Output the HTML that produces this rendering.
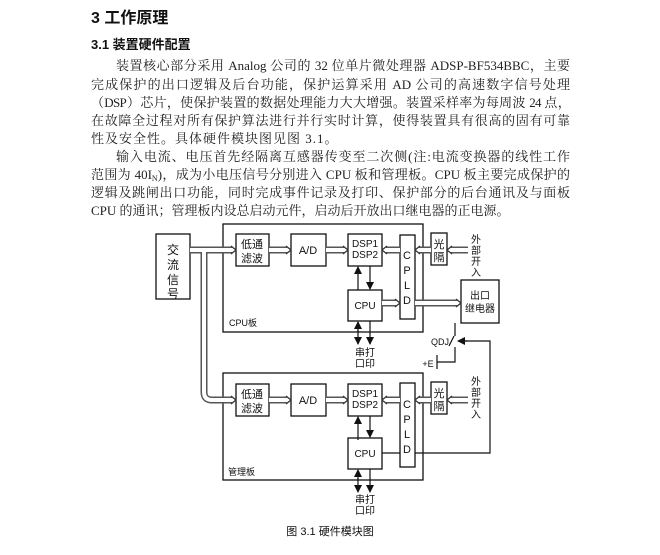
<!DOCTYPE html>
<html><head><meta charset="utf-8"><style>
body{margin:0;width:660px;height:555px;background:#fff;position:relative;overflow:hidden;color:#111}
.t{position:absolute;left:91px;white-space:nowrap;font-family:"Liberation Sans","Noto Sans CJK SC",sans-serif;font-weight:bold}
.l{position:absolute;left:91px;width:479px;font-family:"Liberation Serif","Noto Serif CJK SC",serif;font-size:13px;line-height:18px;height:18px;text-align:justify;text-align-last:justify;white-space:nowrap;color:#222}
svg{position:absolute;left:0;top:0}
</style></head><body>
<div class="t" style="top:4px;font-size:16px">3 工作原理</div>
<div class="t" style="top:34px;font-size:13px">3.1 装置硬件配置</div>
<div class="l" style="top:57px;left:116px;width:454px">装置核心部分采用 Analog 公司的 32 位单片微处理器 ADSP-BF534BBC，主要</div>
<div class="l" style="top:76px">完成保护的出口逻辑及后台功能，保护运算采用 AD 公司的高速数字信号处理</div>
<div class="l" style="top:94px;letter-spacing:-0.7px">（DSP）芯片，使保护装置的数据处理能力大大增强。装置采样率为每周波 24 点，</div>
<div class="l" style="top:112px">在故障全过程对所有保护算法进行并行实时计算，使得装置具有很高的固有可靠</div>
<div class="l" style="top:130px;text-align-last:left;letter-spacing:1px">性及安全性。具体硬件模块图见图 3.1。</div>
<div class="l" style="top:148px;left:116px;width:454px">输入电流、电压首先经隔离互感器传变至二次侧(注:电流变换器的线性工作</div>
<div class="l" style="top:166px">范围为 40I<span style="font-size:8px;position:relative;top:2px">N</span>)，成为小电压信号分别进入 CPU 板和管理板。CPU 板主要完成保护的</div>
<div class="l" style="top:184px">逻辑及跳闸出口功能，同时完成事件记录及打印、保护部分的后台通讯及与面板</div>
<div class="l" style="top:202px;text-align-last:left">CPU 的通讯；管理板内设总启动元件，启动后开放出口继电器的正电源。</div>
<svg width="660" height="555" font-family="Liberation Sans,Noto Sans CJK SC,sans-serif" font-size="11">
<defs>
<marker id="a" markerWidth="8" markerHeight="8" refX="7" refY="4" orient="auto" markerUnits="userSpaceOnUse"><path d="M0,0 L8,4 L0,8 z" fill="#111"/></marker>
</defs>
<g fill="none" stroke="#111" stroke-width="1.3">
<rect x="223" y="224" width="200" height="108"/>
<rect x="223" y="373" width="200" height="107"/>
<rect x="156" y="234" width="34" height="65"/>
<rect x="236" y="234" width="33" height="32"/><rect x="291" y="234" width="35" height="32"/><rect x="348" y="234" width="34" height="32"/>
<rect x="400" y="235" width="15" height="84"/><rect x="431" y="233" width="16" height="32"/><rect x="348" y="290" width="34" height="31"/>
<rect x="461" y="280" width="38" height="43"/>
<rect x="236" y="384" width="33" height="32"/><rect x="291" y="384" width="35" height="32"/><rect x="348" y="384" width="34" height="32"/>
<rect x="400" y="383" width="15" height="84"/><rect x="431" y="382" width="16" height="32"/><rect x="348" y="438" width="34" height="31"/>
</g>
<g fill="none" stroke-linejoin="round">
<g stroke="#555" stroke-width="7">
<path d="M190,250H232"/><path d="M204,250V392Q204,400 212,400H232"/>
<path d="M269,250H287M326,250H344M400,250H386M431,250H419M468,250H451M382,303H396M415,303H457"/>
<path d="M269,400H287M326,400H344M400,400H386M431,400H419M468,400H451"/>
</g>
<g stroke="#fff" stroke-width="4">
<path d="M190,250H233"/><path d="M204,250V392Q204,400 212,400H233"/>
<path d="M269,250H288M326,250H345M400,250H385M431,250H418M468,250H450M382,303H397M415,303H458"/>
<path d="M269,400H288M326,400H345M400,400H385M431,400H418M468,400H450"/>
</g>
<g stroke="#333" stroke-width="1.3">
<path d="M231,246L236,250L231,254M286,246L291,250L286,254M343,246L348,250L343,254M387,246L382,250L387,254M420,246L415,250L420,254M452,246L447,250L452,254M395,299L400,303L395,307M456,299L461,303L456,307"/>
<path d="M231,396L236,400L231,404M286,396L291,400L286,404M343,396L348,400L343,404M387,396L382,400L387,404M420,396L415,400L420,404M452,396L447,400L452,404"/>
</g>
</g>
<g stroke="#111" stroke-width="1.2" fill="none">
<path d="M358,290V267" marker-end="url(#a)"/><path d="M370,266V289" marker-end="url(#a)"/>
<path d="M358,332V322" marker-end="url(#a)"/><path d="M358,330V344" marker-end="url(#a)"/><path d="M370,321V344" marker-end="url(#a)"/>
<path d="M358,440V417" marker-end="url(#a)"/><path d="M370,416V437" marker-end="url(#a)"/>
<path d="M358,480V470" marker-end="url(#a)"/><path d="M358,478V492" marker-end="url(#a)"/><path d="M370,469V492" marker-end="url(#a)"/>
<path d="M382,453H400M415,453H490V341H462" />
<path d="M468,341H458" marker-end="url(#a)"/>
<path d="M455,323V336M449,346L454,336M455,347V362H437M437,355V369"/>
</g>
<g fill="#111" text-anchor="middle">
<text x="173" y="254" font-size="12">交</text><text x="173" y="269" font-size="12">流</text><text x="173" y="284" font-size="12">信</text><text x="173" y="298" font-size="12">号</text>
<text x="252" y="248" font-size="11">低通</text><text x="252" y="262" font-size="11">滤波</text>
<text x="308" y="254" font-size="11">A/D</text>
<text x="365" y="247" font-size="10">DSP1</text><text x="365" y="258" font-size="10">DSP2</text>
<text x="407" y="259" font-size="11">C</text><text x="407" y="274" font-size="11">P</text><text x="407" y="289" font-size="11">L</text><text x="407" y="304" font-size="11">D</text>
<text x="439" y="248" font-size="11">光</text><text x="439" y="261" font-size="11">隔</text>
<text x="476" y="243" font-size="10">外</text><text x="476" y="254" font-size="10">部</text><text x="476" y="265" font-size="10">开</text><text x="476" y="276" font-size="10">入</text>
<text x="365" y="309" font-size="10">CPU</text>
<text x="480" y="299" font-size="10">出口</text><text x="480" y="312" font-size="10">继电器</text>
<text x="365" y="356" font-size="10">串打</text><text x="365" y="367" font-size="10">口印</text>
<text x="440" y="345" font-size="9">QDJ</text><text x="428" y="367" font-size="9">+E</text>
<text x="252" y="398" font-size="11">低通</text><text x="252" y="412" font-size="11">滤波</text>
<text x="308" y="404" font-size="11">A/D</text>
<text x="365" y="397" font-size="10">DSP1</text><text x="365" y="408" font-size="10">DSP2</text>
<text x="407" y="408" font-size="11">C</text><text x="407" y="423" font-size="11">P</text><text x="407" y="438" font-size="11">L</text><text x="407" y="453" font-size="11">D</text>
<text x="439" y="397" font-size="11">光</text><text x="439" y="410" font-size="11">隔</text>
<text x="476" y="385" font-size="10">外</text><text x="476" y="396" font-size="10">部</text><text x="476" y="407" font-size="10">开</text><text x="476" y="418" font-size="10">入</text>
<text x="365" y="457" font-size="10">CPU</text>
<text x="365" y="503" font-size="10">串打</text><text x="365" y="514" font-size="10">口印</text>
<text x="330" y="535" font-size="11">图 3.1  硬件模块图</text>
</g>
<g fill="#111" font-size="9"><text x="229" y="326">CPU板</text><text x="228" y="475">管理板</text></g>
</svg>
</body></html>
